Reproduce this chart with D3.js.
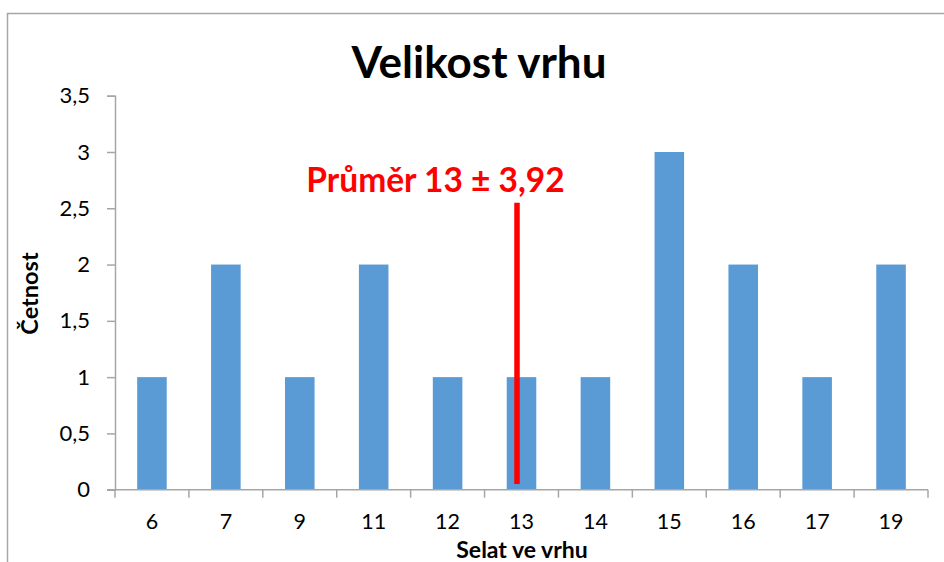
<!DOCTYPE html>
<html>
<head>
<meta charset="utf-8">
<script src="https://cdn.jsdelivr.net/npm/d3@7"></script>
<style>
  html, body { margin: 0; padding: 0; background: #fff; }
  svg { display: block; font-family: Lato, "Open Sans", sans-serif; }
</style>
</head>
<body>
<svg id="chart" width="944" height="562"></svg>
<script>
// data
const categories = ["6", "7", "9", "11", "12", "13", "14", "15", "16", "17", "19"];
const counts = [1, 2, 1, 2, 1, 1, 1, 3, 2, 1, 2];
const yTicks = [0, 0.5, 1, 1.5, 2, 2.5, 3, 3.5];
const meanCategory = "13";
const meanLineRange = [0.05, 2.55];
const meanLabel = "Průměr 13 ± 3,92";

const width = 944, height = 562;
const plot = { left: 115, right: 928, top: 95.7, bottom: 489.7 };

const svg = d3.select("#chart");

// outer chart frame (only left and top edges visible)
svg.append("rect")
  .attr("x", 7.5).attr("y", 13.5)
  .attr("width", width + 20).attr("height", height + 20)
  .attr("fill", "none")
  .attr("stroke", "#a6a6a6")
  .attr("stroke-width", 1.5);

// scales
const x = d3.scaleBand()
  .domain(categories)
  .range([plot.left, plot.right])
  .paddingInner(0.6)
  .paddingOuter(0.3);

const cell = d3.scaleBand()
  .domain(categories)
  .range([plot.left, plot.right])
  .padding(0);

const y = d3.scaleLinear()
  .domain([0, 3.5])
  .range([plot.bottom, plot.top]);

const fmt = d => String(d).replace(".", ",");

// y axis
const yAxis = svg.append("g")
  .attr("transform", `translate(${plot.left},0)`)
  .call(d3.axisLeft(y).tickValues(yTicks).tickFormat(fmt).tickSize(8).tickPadding(17));
yAxis.select(".domain").attr("stroke", "#a6a6a6").attr("stroke-width", 1.5);
yAxis.selectAll(".tick line").attr("stroke", "#a6a6a6").attr("stroke-width", 1.5);
yAxis.selectAll(".tick text")
  .attr("fill", "#000")
  .style("font-size", "22px")
  .style("font-family", "Lato, sans-serif");

// bars
svg.append("g")
  .selectAll("rect")
  .data(categories.map((c, i) => ({ c, v: counts[i] })))
  .join("rect")
  .attr("x", d => x(d.c))
  .attr("y", d => y(d.v))
  .attr("width", x.bandwidth())
  .attr("height", d => y(0) - y(d.v))
  .attr("fill", "#5b9bd5");

// x axis: labels centred, ticks on category boundaries
const xAxis = svg.append("g")
  .attr("transform", `translate(0,${plot.bottom})`)
  .call(d3.axisBottom(cell).tickSize(0).tickPadding(24));
xAxis.select(".domain").remove();
xAxis.selectAll(".tick text")
  .attr("fill", "#000")
  .style("font-size", "21.5px")
  .style("font-family", "Lato, sans-serif");

const bounds = categories.map(c => cell(c)).concat([cell(categories[categories.length - 1]) + cell.bandwidth()]);
const xLine = svg.append("g").attr("transform", `translate(0,${plot.bottom})`);
xLine.append("line")
  .attr("x1", plot.left - 8).attr("x2", plot.right)
  .attr("stroke", "#a6a6a6").attr("stroke-width", 1.5);
xLine.selectAll("line.tk")
  .data(bounds)
  .join("line")
  .attr("class", "tk")
  .attr("x1", d => d).attr("x2", d => d)
  .attr("y1", 0).attr("y2", 8)
  .attr("stroke", "#a6a6a6").attr("stroke-width", 1.5);

// mean marker
const meanX = x(meanCategory) + x.bandwidth() / 2 - 4.5;
svg.append("line")
  .attr("x1", meanX).attr("x2", meanX)
  .attr("y1", y(meanLineRange[0])).attr("y2", y(meanLineRange[1]))
  .attr("stroke", "#ff0000")
  .attr("stroke-width", 5.5);

svg.append("text")
  .attr("x", 435.5).attr("y", 191.5)
  .attr("text-anchor", "middle")
  .attr("fill", "#ff0000")
  .style("font-weight", "bold")
  .style("font-size", "33.5px")
  .text(meanLabel);

// title and axis titles
svg.append("text")
  .attr("x", 479).attr("y", 78)
  .attr("text-anchor", "middle")
  .attr("fill", "#000")
  .style("font-weight", "bold")
  .style("font-size", "44px")
  .text("Velikost vrhu");

svg.append("text")
  .attr("transform", "translate(38,293.5) rotate(-90)")
  .attr("text-anchor", "middle")
  .attr("fill", "#000")
  .style("font-weight", "bold")
  .style("font-size", "23.5px")
  .text("Četnost");

svg.append("text")
  .attr("x", 522).attr("y", 558)
  .attr("text-anchor", "middle")
  .attr("fill", "#000")
  .style("font-weight", "bold")
  .style("font-size", "23px")
  .text("Selat ve vrhu");
</script>
</body>
</html>
